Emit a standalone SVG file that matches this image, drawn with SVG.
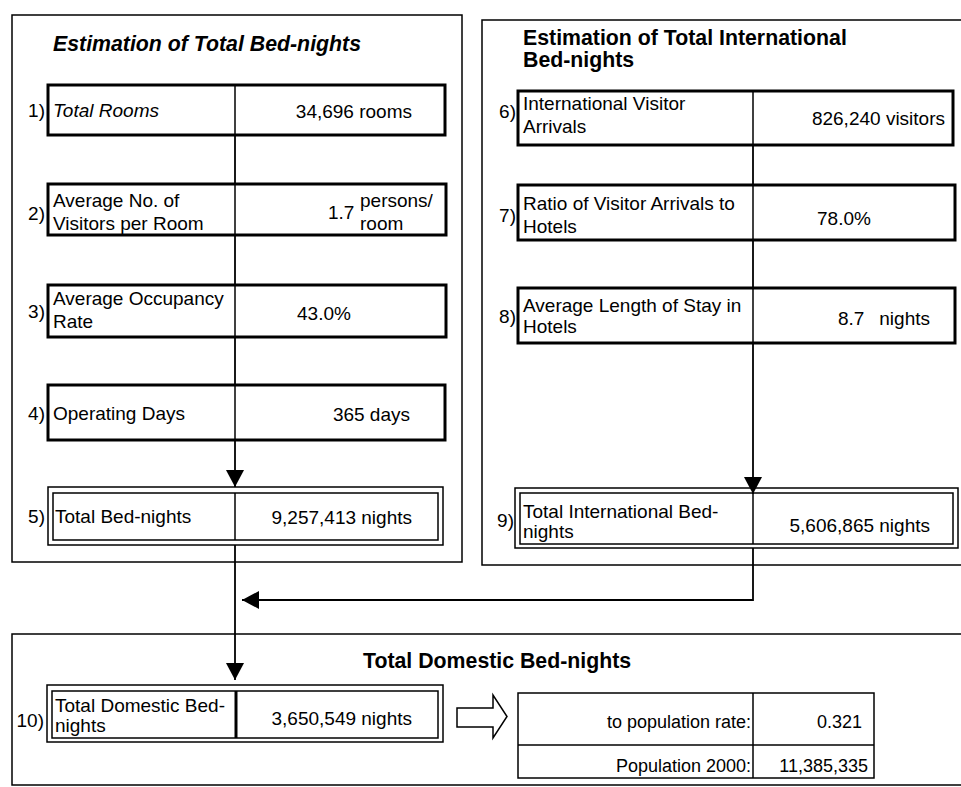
<svg xmlns="http://www.w3.org/2000/svg" width="961" height="787" viewBox="0 0 961 787">
<style>
text{font-family:"Liberation Sans",Arial,sans-serif;font-size:19px;fill:#000}
.h{font-weight:bold;font-size:21.3px}
.i{font-style:italic}
.e{text-anchor:end}
.sm{font-size:18px}
.panel{fill:none;stroke:#000;stroke-width:1.5}
.box{fill:#fff;stroke:#000;stroke-width:3}
.thin{fill:none;stroke:#000;stroke-width:1.5}
.thick{fill:none;stroke:#000;stroke-width:3}
.conn{fill:none;stroke:#000;stroke-width:1.8}
</style>
<defs>
<marker id="ah" markerUnits="userSpaceOnUse" markerWidth="17" markerHeight="18" refX="17" refY="9" orient="auto">
<path d="M0,0 L17,9 L0,18 z" fill="#000"/>
</marker>
</defs>
<rect width="961" height="787" fill="#fff"/>

<g id="panel-left">
<rect class="panel" x="12" y="15" width="450" height="547"/>
<text class="h i" x="53" y="51">Estimation of Total Bed-nights</text>
</g>
<g id="panel-right">
<rect class="panel" x="482" y="20" width="500" height="545"/>
<text class="h" x="523" y="45">Estimation of Total International</text>
<text class="h" x="523" y="67">Bed-nights</text>
</g>
<g id="panel-bottom">
<rect class="panel" x="12" y="634" width="970" height="151"/>
<text class="h" x="363" y="668">Total Domestic Bed-nights</text>
</g>

<g id="n1">
<rect class="box" x="48" y="85" width="397" height="50"/>
<line class="thin" x1="235" y1="85" x2="235" y2="135"/>
<text class="e" x="45" y="117">1)</text>
<text class="i" x="53" y="117">Total Rooms</text>
<text class="e" x="412" y="118">34,696 rooms</text>
</g>
<g id="n2">
<rect class="box" x="48" y="184" width="398" height="51"/>
<line class="thin" x1="235" y1="184" x2="235" y2="235"/>
<text class="e" x="45" y="220">2)</text>
<text x="53" y="207">Average No. of</text>
<text x="53" y="230">Visitors per Room</text>
<text x="328" y="219">1.7</text>
<text x="360" y="207">persons/</text>
<text x="360" y="230">room</text>
</g>
<g id="n3">
<rect class="box" x="48" y="285" width="398" height="52"/>
<line class="thin" x1="235" y1="285" x2="235" y2="337"/>
<text class="e" x="45" y="318">3)</text>
<text x="53" y="305">Average Occupancy</text>
<text x="53" y="328">Rate</text>
<text x="297" y="320">43.0%</text>
</g>
<g id="n4">
<rect class="box" x="48" y="385" width="397" height="55"/>
<line class="thin" x1="235" y1="385" x2="235" y2="440"/>
<text class="e" x="45" y="420">4)</text>
<text x="53" y="420">Operating Days</text>
<text class="e" x="410" y="421">365 days</text>
</g>
<g id="n5">
<rect class="thin" x="48" y="487" width="395" height="58" fill="#fff"/>
<rect class="thin" x="53" y="493" width="385" height="47"/>
<line class="thin" x1="235" y1="493" x2="235" y2="540"/>
<text class="e" x="45" y="523">5)</text>
<text x="55" y="523">Total Bed-nights</text>
<text class="e" x="412" y="524">9,257,413 nights</text>
</g>

<g id="n6">
<rect class="box" x="518" y="91" width="435" height="54"/>
<line class="thin" x1="753" y1="91" x2="753" y2="145"/>
<text class="e" x="516" y="118">6)</text>
<text x="523" y="110">International Visitor</text>
<text x="523" y="133">Arrivals</text>
<text class="e" x="945" y="125">826,240 visitors</text>
</g>
<g id="n7">
<rect class="box" x="518" y="185" width="437" height="55"/>
<line class="thin" x1="753" y1="185" x2="753" y2="240"/>
<text class="e" x="516" y="222">7)</text>
<text x="523" y="210">Ratio of Visitor Arrivals to</text>
<text x="523" y="233">Hotels</text>
<text x="817" y="225">78.0%</text>
</g>
<g id="n8">
<rect class="box" x="518" y="288" width="437" height="55"/>
<line class="thin" x1="753" y1="288" x2="753" y2="343"/>
<text class="e" x="516" y="323">8)</text>
<text x="523" y="312">Average Length of Stay in</text>
<text x="523" y="333">Hotels</text>
<text x="838" y="325">8.7</text>
<text class="e" x="930" y="325">nights</text>
</g>
<g id="n9">
<rect class="thin" x="515" y="488" width="443" height="60" fill="#fff"/>
<rect class="thin" x="520" y="493" width="433" height="51"/>
<line class="thin" x1="753" y1="493" x2="753" y2="544"/>
<text class="e" x="514" y="527">9)</text>
<text x="523" y="518">Total International Bed-</text>
<text x="523" y="538">nights</text>
<text class="e" x="930" y="532">5,606,865 nights</text>
</g>

<g id="n10">
<rect class="thin" x="47" y="685" width="396" height="57" fill="#fff"/>
<rect class="thin" x="52" y="691" width="386" height="47"/>
<line class="thick" x1="236" y1="691" x2="236" y2="738"/>
<text class="e" x="44" y="727">10)</text>
<text x="55" y="712">Total Domestic Bed-</text>
<text x="55" y="732">nights</text>
<text class="e" x="412" y="725">3,650,549 nights</text>
</g>
<g id="block-arrow">
<path class="thin" d="M457,708 L493,708 L493,695 L507,716.5 L493,738 L493,727 L457,727 z" fill="#fff"/>
</g>
<g id="population-table">
<rect class="thin" x="518" y="693" width="356" height="85" fill="#fff"/>
<line class="thin" x1="518" y1="745" x2="874" y2="745"/>
<line class="thin" x1="753" y1="693" x2="753" y2="778"/>
<text class="e sm" x="751" y="728">to population rate:</text>
<text class="e sm" x="862" y="728">0.321</text>
<text class="e sm" x="751" y="772">Population 2000:</text>
<text class="e sm" x="868" y="772">11,385,335</text>
</g>

<g id="connectors">
<line class="conn" x1="235" y1="135" x2="235" y2="184"/>
<line class="conn" x1="235" y1="235" x2="235" y2="285"/>
<line class="conn" x1="235" y1="337" x2="235" y2="385"/>
<line class="conn" x1="235" y1="440" x2="235" y2="487" marker-end="url(#ah)"/>
<line class="conn" x1="235" y1="545" x2="235" y2="680" marker-end="url(#ah)"/>
<line class="conn" x1="753" y1="145" x2="753" y2="185"/>
<line class="conn" x1="753" y1="240" x2="753" y2="288"/>
<line class="conn" x1="753" y1="343" x2="753" y2="494" marker-end="url(#ah)"/>
<polyline class="conn" points="753,548 753,600 242,600" marker-end="url(#ah)"/>
</g>
</svg>
